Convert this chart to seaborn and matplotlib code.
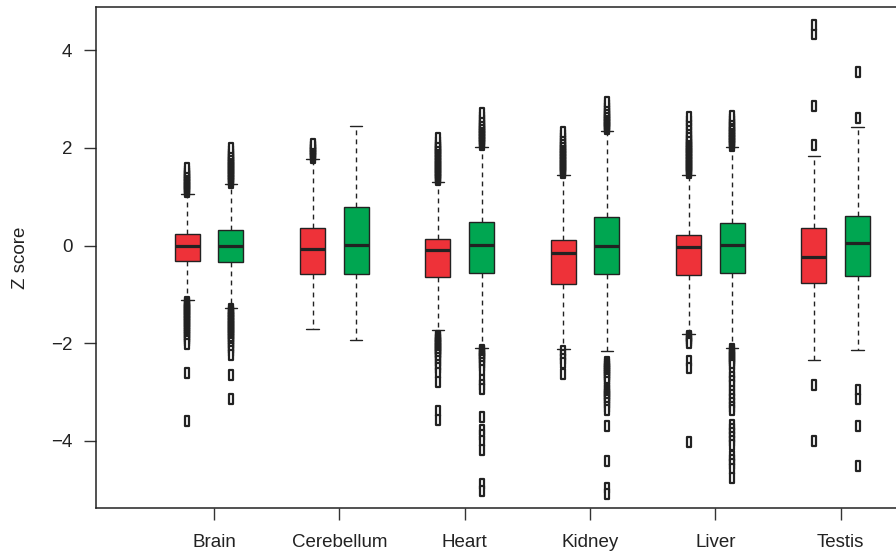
import numpy as np
import pandas as pd
import matplotlib
matplotlib.use("Agg")
import matplotlib.pyplot as plt
import seaborn as sns
from matplotlib.path import Path

# ---------------- data ----------------
tissues = ["Brain", "Cerebellum", "Heart", "Kidney", "Liver", "Testis"]
groups = ["red", "green"]

# box statistics per tissue (order as in `tissues`)
red_q1 = [-0.31, -0.59, -0.65, -0.79, -0.60, -0.76]
red_med = [0.00, -0.08, -0.09, -0.16, -0.03, -0.23]
red_q3 = [0.24, 0.36, 0.14, 0.11, 0.22, 0.36]
red_lo = [-1.12, -1.72, -1.74, -2.12, -1.81, -2.35]
red_hi = [1.06, 1.78, 1.31, 1.45, 1.44, 1.83]

green_q1 = [-0.33, -0.58, -0.56, -0.59, -0.56, -0.62]
green_med = [0.00, 0.02, 0.01, 0.00, 0.01, 0.05]
green_q3 = [0.31, 0.79, 0.48, 0.59, 0.47, 0.61]
green_lo = [-1.28, -1.93, -2.11, -2.17, -2.09, -2.15]
green_hi = [1.26, 2.46, 2.03, 2.35, 2.01, 2.43]

red_outliers = [
    [1.09, 1.12, 1.15, 1.18, 1.21, 1.24, 1.27, 1.30, 1.33, 1.36, 1.39, 1.42, 1.45,
     1.48, 1.52, 1.58,
     -1.15, -1.18, -1.21, -1.24, -1.27, -1.30, -1.33, -1.36, -1.39, -1.42, -1.45,
     -1.48, -1.51, -1.54, -1.57, -1.60, -1.64, -1.68, -1.72, -1.76, -1.80, -1.84,
     -1.88, -1.92, -1.96, -2.02, -2.62, -3.60],
    [1.80, 1.83, 1.86, 1.89, 1.92, 1.95, 1.98, 2.01, 2.04, 2.08],
    [1.34, 1.37, 1.40, 1.43, 1.46, 1.49, 1.52, 1.55, 1.58, 1.61, 1.64, 1.67, 1.70,
     1.73, 1.76, 1.79, 1.82, 1.85, 1.88, 1.91, 1.94, 1.97, 2.00, 2.03, 2.07, 2.12,
     2.20,
     -1.85, -1.88, -1.91, -1.94, -1.97, -2.00, -2.03, -2.06, -2.09, -2.12, -2.15,
     -2.18, -2.21, -2.25, -2.30, -2.36, -2.44, -2.52, -2.62, -2.80, -3.40, -3.58],
    [1.48, 1.51, 1.54, 1.57, 1.60, 1.63, 1.66, 1.69, 1.72, 1.75, 1.78, 1.81, 1.84,
     1.87, 1.90, 1.93, 1.96, 1.99, 2.02, 2.06, 2.10, 2.15, 2.20, 2.26, 2.32,
     -2.16, -2.24, -2.32, -2.40, -2.63],
    [1.48, 1.51, 1.54, 1.57, 1.60, 1.63, 1.66, 1.69, 1.72, 1.75, 1.78, 1.81, 1.84,
     1.87, 1.90, 1.93, 1.96, 1.99, 2.02, 2.05, 2.08, 2.12, 2.16, 2.20, 2.25, 2.32,
     2.40, 2.48, 2.56, 2.64,
     -1.85, -1.88, -1.92, -1.96, -2.00, -2.36, -2.50, -4.03],
    [2.07, 2.87, 4.33, 4.53, -2.85, -4.00],
]
green_outliers = [
    [1.29, 1.32, 1.35, 1.38, 1.41, 1.44, 1.47, 1.50, 1.53, 1.56, 1.59, 1.62, 1.65,
     1.68, 1.71, 1.74, 1.77, 1.80, 1.84, 1.88, 1.93, 2.00,
     -1.31, -1.34, -1.37, -1.40, -1.43, -1.46, -1.49, -1.52, -1.55, -1.58, -1.61,
     -1.64, -1.67, -1.70, -1.73, -1.76, -1.79, -1.82, -1.85, -1.88, -1.92, -1.96,
     -2.00, -2.05, -2.10, -2.17, -2.25, -2.65, -3.15],
    [],
    [2.07, 2.10, 2.13, 2.16, 2.19, 2.22, 2.25, 2.28, 2.31, 2.34, 2.37, 2.40, 2.44,
     2.48, 2.52, 2.57, 2.63, 2.72,
     -2.14, -2.17, -2.20, -2.23, -2.26, -2.30, -2.34, -2.40, -2.47, -2.55, -2.75,
     -2.85, -2.95, -3.52, -3.78, -3.88, -4.00, -4.20, -4.88, -5.03],
    [2.38, 2.41, 2.44, 2.47, 2.50, 2.53, 2.56, 2.59, 2.62, 2.65, 2.68, 2.72, 2.76,
     2.82, 2.88, 2.95,
     -2.38, -2.42, -2.46, -2.50, -2.54, -2.58, -2.62, -2.66, -2.70, -2.74, -2.80,
     -2.92, -2.96, -3.00, -3.04, -3.08, -3.12, -3.16, -3.22, -3.30, -3.38, -3.69,
     -4.41, -4.96, -5.10],
    [2.05, 2.08, 2.11, 2.14, 2.17, 2.20, 2.23, 2.26, 2.29, 2.32, 2.35, 2.38, 2.42,
     2.46, 2.50, 2.55, 2.60, 2.65,
     -2.12, -2.16, -2.20, -2.24, -2.28, -2.32, -2.36, -2.40, -2.45, -2.62, -2.70,
     -2.78, -2.85, -2.98, -3.06, -3.14, -3.22, -3.30, -3.38, -3.68, -3.76, -3.84,
     -3.92, -4.00, -4.08, -4.32, -4.40, -4.48, -4.58, -4.77],
    [2.62, 3.55, -2.97, -3.14, -3.69, -4.51],
]

y_ticks = [-4, -2, 0, 2, 4]
y_label = "Z score"
colors = {"red": "#EE3239", "green": "#00A651"}

# ---------------- build long-form table reproducing the box stats ----------------
B = 100  # replication of quartile values so the quantiles land exactly on them
records = []
stats = {
    "red": (red_q1, red_med, red_q3, red_lo, red_hi, red_outliers),
    "green": (green_q1, green_med, green_q3, green_lo, green_hi, green_outliers),
}
for g in groups:
    q1s, meds, q3s, los, his, outs = stats[g]
    for i, t in enumerate(tissues):
        vals = [los[i]] + [q1s[i]] * B + [meds[i]] * B + [q3s[i]] * B + [his[i]] + list(outs[i])
        for v in vals:
            records.append((t, g, v))
df = pd.DataFrame(records, columns=["tissue", "group", "z"])

# ---------------- plot ----------------
sns.set_style("white")
plt.rcParams["font.family"] = ["Liberation Sans", "DejaVu Sans"]
plt.rcParams["axes.unicode_minus"] = True

W, H = 896, 554
fig = plt.figure(figsize=(W / 100, H / 100), dpi=100)
px_per_unit = 125.34
x_left = -0.902
x_right = 5.9
ax_left_px, ax_top_px, ax_bot_px = 96, 7, 508
ax = fig.add_axes([ax_left_px / W, 1 - ax_bot_px / H,
                   (x_right - x_left) * px_per_unit / W, (ax_bot_px - ax_top_px) / H])

rect = Path([(-0.45, -1), (0.45, -1), (0.45, 1), (-0.45, 1), (-0.45, -1)],
            [Path.MOVETO, Path.LINETO, Path.LINETO, Path.LINETO, Path.CLOSEPOLY])

sns.boxplot(
    data=df, x="tissue", y="z", hue="group", order=tissues, hue_order=groups,
    palette=colors, saturation=1, width=0.696, gap=0.425, whis=1.5,
    linecolor="#222222", linewidth=1.0, legend=False, ax=ax,
    fliersize=7.5,
    flierprops=dict(marker=rect, markersize=7.5, markerfacecolor="white",
                    markeredgecolor="#222222", markeredgewidth=1.6),
    whiskerprops=dict(linestyle=(0, (3.5, 3)), linewidth=1.0),
    capprops=dict(linewidth=1.0),
    medianprops=dict(linewidth=2.3, color="#222222"),
)

# enforce the R-like styling of fliers
for line in ax.lines:
    if line.get_marker() not in (None, "None", "", " "):
        line.set_marker(rect)
        line.set_markersize(7.5)
        line.set_markerfacecolor("white")
        line.set_markeredgecolor("#222222")
        line.set_markeredgewidth(1.6)
        line.set_linestyle("none")

ax.set_xlim(x_left, x_right)
ax.set_ylim(-5.38, 4.89)
ax.set_xticks(np.arange(len(tissues)) + 0.04, tissues)
ax.set_yticks(y_ticks, [str(v).replace("-", "\u2212") for v in y_ticks])
ax.set_xlabel("")
ax.set_ylabel(y_label, fontsize=13.5, color="#222222", labelpad=16)

ax.tick_params(axis="both", direction="out", length=8.5, width=1.0, color="#333333",
               labelsize=13.5, labelcolor="#222222", bottom=True, left=True,
               top=False, right=False)
ax.tick_params(axis="x", pad=10.5)
ax.tick_params(axis="y", pad=8.5)
for s in ax.spines.values():
    s.set_visible(True)
    s.set_linewidth(1.1)
    s.set_color("#222222")
ax.grid(False)

fig.savefig("out.png", dpi=100)
